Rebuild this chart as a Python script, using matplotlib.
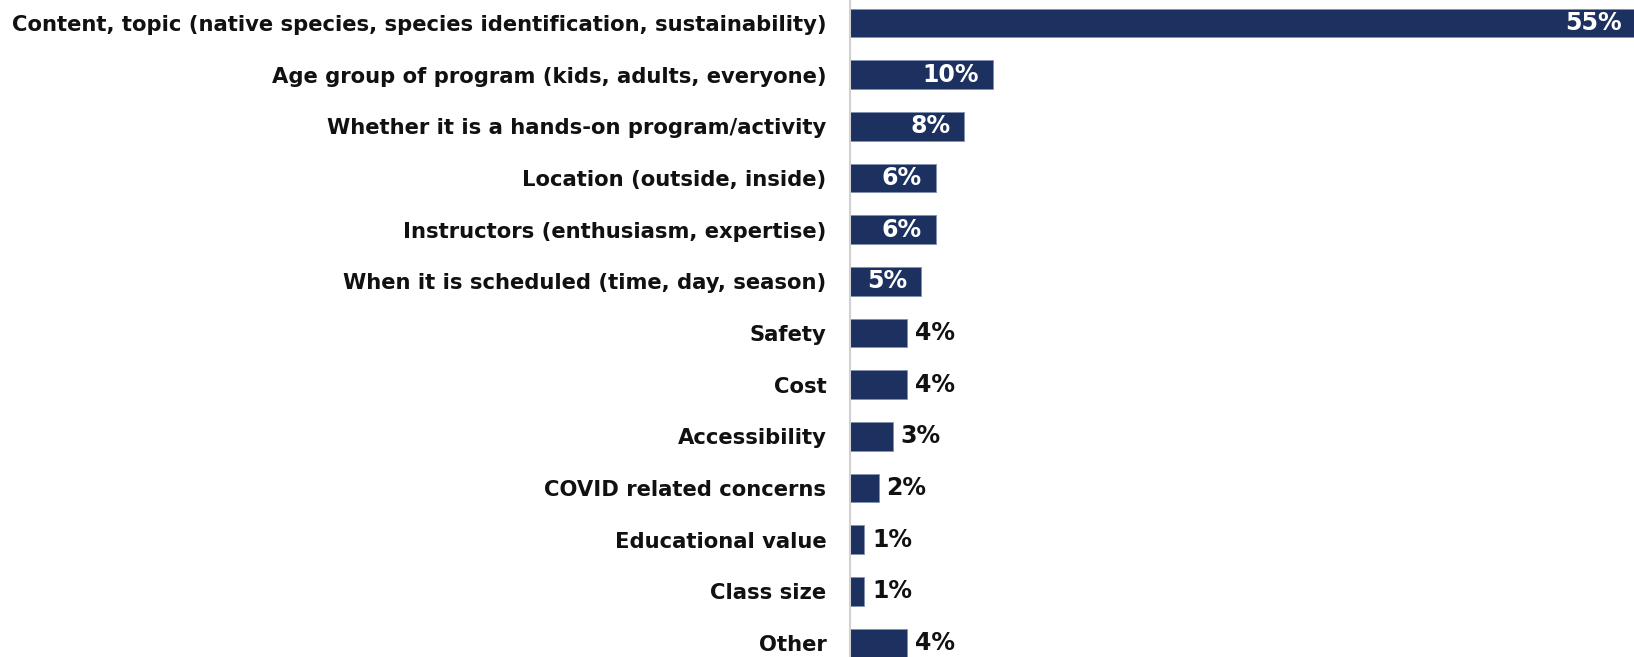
import matplotlib
matplotlib.use("Agg")
import matplotlib.pyplot as plt

categories = [
    "Content, topic (native species, species identification, sustainability)",
    "Age group of program (kids, adults, everyone)",
    "Whether it is a hands-on program/activity",
    "Location (outside, inside)",
    "Instructors (enthusiasm, expertise)",
    "When it is scheduled (time, day, season)",
    "Safety",
    "Cost",
    "Accessibility",
    "COVID related concerns",
    "Educational value",
    "Class size",
    "Other",
]
values = [55, 10, 8, 6, 6, 5, 4, 4, 3, 2, 1, 1, 4]
labels = ["55%", "10%", "8%", "6%", "6%", "5%", "4%", "4%", "3%", "2%", "1%", "1%", "4%"]
inside = [True, True, True, True, True, True, False, False, False, False, False, False, False]

W, H = 1634, 657
fig = plt.figure(figsize=(W / 100, H / 100), dpi=100)
ax = fig.add_axes([850 / W, 0, 1 - 850 / W, 1])

navy = "#1c3160"
ypos = list(range(len(categories)))
ax.barh(ypos, values, height=0.56, color=navy, edgecolor="#8090b0", linewidth=0.6)
ax.set_xlim(0, 55 * 784 / 786)
ax.set_ylim(12 + 14 / 51.67, -23 / 51.67)

ax.set_yticks(ypos)
ax.set_yticklabels(categories, fontsize=15.2, fontweight="bold", color="#111111")
ax.tick_params(axis="y", length=0, pad=17)
ax.set_xticks([])
for s in ["top", "right", "bottom"]:
    ax.spines[s].set_visible(False)
ax.spines["left"].set_color("#d0d0d0")
ax.spines["left"].set_linewidth(1.5)

for y, v, lab, ins in zip(ypos, values, labels, inside):
    if ins:
        ax.annotate(lab, (v, y), xytext=(-14, 0), textcoords="offset pixels",
                    ha="right", va="center", color="white", fontsize=17,
                    fontweight="bold", annotation_clip=False)
    else:
        ax.annotate(lab, (v, y), xytext=(8, 0), textcoords="offset pixels",
                    ha="left", va="center", color="#111111", fontsize=17,
                    fontweight="bold", annotation_clip=False)

fig.savefig("out.png", dpi=100)
